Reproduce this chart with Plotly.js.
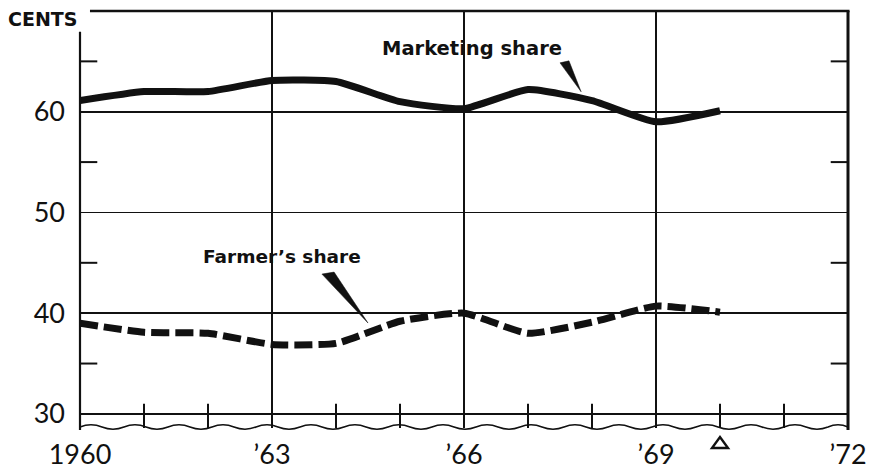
<!DOCTYPE html>
<html>
<head>
<meta charset="utf-8">
<script src="https://cdn.plot.ly/plotly-3.0.1.min.js"></script>
<style>html,body{margin:0;padding:0;background:#fff;}#chart{width:871px;height:472px;}</style>
</head>
<body>
<div id="chart"></div>
<script>
// ---- data (cents of the consumer food dollar) ----
const years = [1960, 1961, 1962, 1963, 1964, 1965, 1966, 1967, 1968, 1969, 1970];
const marketingShare = [61.1, 62.0, 62.0, 63.1, 63.0, 61.0, 60.3, 62.2, 61.1, 59.0, 60.1];
const farmerShare = [39.0, 38.1, 38.0, 36.9, 37.0, 39.2, 40.0, 38.0, 39.1, 40.7, 40.1];
const xTickVals = [1960, 1963, 1966, 1969, 1972];
const xTickText = ['1960', '\u201963', '\u201966', '\u201969', '\u201972'];
const yTickVals = [30, 40, 50, 60];
const yMinorTicks = [35, 45, 55, 65];
const xMinorTicks = [1961, 1962, 1964, 1965, 1967, 1968, 1970, 1971];
const preliminaryYear = 1970;

const INK = '#111';
const X0 = 1960, X1 = 1972, Y0 = 28.6, Y1 = 70;

const traces = [
  {x: years, y: marketingShare, type: 'scatter', mode: 'lines', name: 'Marketing share',
   line: {color: INK, width: 7, shape: 'spline', smoothing: 0.5}, hoverinfo: 'x+y'},
  {x: years, y: farmerShare, type: 'scatter', mode: 'lines', name: "Farmer's share",
   line: {color: INK, width: 7, dash: '18px,6px', shape: 'spline', smoothing: 0.5}, hoverinfo: 'x+y'}
];

const shapes = [];
// frame: top and right borders, left border starting below the CENTS label
shapes.push({type: 'line', xref: 'paper', yref: 'paper', x0: 0.013, x1: 1.002, y0: 1, y1: 1, line: {color: INK, width: 2.5}});
shapes.push({type: 'line', xref: 'paper', yref: 'paper', x0: 1, x1: 1, y0: -0.005, y1: 1, line: {color: INK, width: 3}});
shapes.push({type: 'line', xref: 'paper', yref: 'paper', x0: 0, x1: 0, y0: -0.005, y1: 0.95, line: {color: INK, width: 2.2}});
// inner minor ticks on the value scale, left and right
yMinorTicks.forEach(v => {
  shapes.push({type: 'line', xref: 'x', yref: 'y', x0: X0, x1: X0 + 0.27, y0: v, y1: v, line: {color: INK, width: 2}});
  shapes.push({type: 'line', xref: 'x', yref: 'y', x0: X1 - 0.27, x1: X1, y0: v, y1: v, line: {color: INK, width: 2}});
});
// year ticks crossing the 30 line down to the broken-scale edge
xMinorTicks.forEach(v => {
  shapes.push({type: 'line', xref: 'x', yref: 'y', x0: v, x1: v, y0: Y0, y1: 31, line: {color: INK, width: 2}});
});
// wavy broken-scale bottom edge
(function(){
  const W = 768, H = 417, period = 22, amp = 2.2;
  let p = 'M 0 ' + (1 / H).toFixed(5);
  let n = Math.ceil(W / period);
  for (let i = 0; i < n; i++) {
    const xa = i * period, xb = Math.min(W, (i + 1) * period);
    const xm = (xa + xb) / 2;
    const s = (i % 2 === 0) ? 1 : -1;
    p += ' Q ' + (xm / W).toFixed(5) + ' ' + ((1 + s * amp * 2) / H).toFixed(5) + ' ' + (xb / W).toFixed(5) + ' ' + (1 / H).toFixed(5);
  }
  shapes.push({type: 'path', xref: 'paper', yref: 'paper', path: p, line: {color: INK, width: 1.6}});
})();
// open triangle marking the preliminary year under the axis
(function(){
  const cx = (preliminaryYear - X0) / (X1 - X0), hw = 8 / 768;
  const yb = -20 / 417, yt = -9 / 417;
  shapes.push({type: 'path', xref: 'paper', yref: 'paper',
    path: 'M ' + (cx - hw).toFixed(5) + ' ' + yb.toFixed(5) + ' L ' + (cx + hw).toFixed(5) + ' ' + yb.toFixed(5) + ' L ' + cx.toFixed(5) + ' ' + yt.toFixed(5) + ' Z',
    line: {color: INK, width: 2.4}, fillcolor: 'rgba(0,0,0,0)'});
})();
// pointer wedges from labels to lines
shapes.push({type: 'path', xref: 'x', yref: 'y', path: 'M 1967.50 64.85 L 1967.64 65.05 L 1967.83 61.98 Z', fillcolor: INK, line: {color: INK, width: 0.5}});
shapes.push({type: 'path', xref: 'x', yref: 'y', path: 'M 1963.78 43.88 L 1963.97 44.08 L 1964.50 39.02 Z', fillcolor: INK, line: {color: INK, width: 0.5}});

const annotations = [
  {xref: 'paper', yref: 'paper', x: -0.097, y: 0.981, xanchor: 'left', yanchor: 'middle', showarrow: false,
   text: 'CENTS', font: {family: 'DejaVu Sans', size: 19, color: INK, weight: 'bold'}},
  {xref: 'x', yref: 'y', x: 1966.125, y: 66.3, xanchor: 'center', yanchor: 'middle', showarrow: false,
   text: 'Marketing share', font: {family: 'DejaVu Sans', size: 19.5, color: INK, weight: 'bold'}},
  {xref: 'x', yref: 'y', x: 1963.16, y: 45.6, xanchor: 'center', yanchor: 'middle', showarrow: false,
   text: 'Farmer\u2019s share', font: {family: 'DejaVu Sans', size: 18.5, color: INK, weight: 'bold'}}
];

const layout = {
  width: 871, height: 472,
  margin: {l: 80, r: 23, t: 11, b: 44, pad: 0},
  paper_bgcolor: '#fff', plot_bgcolor: '#fff',
  showlegend: false,
  xaxis: {range: [X0, X1], tickmode: 'array', tickvals: xTickVals, ticktext: xTickText,
          showgrid: true, gridcolor: INK, gridwidth: 1.8, zeroline: false, showline: false, ticks: '',
          ticklabelstandoff: 8, tickfont: {family: 'Lato', size: 27, color: INK}, fixedrange: true},
  yaxis: {range: [Y0, Y1], tickmode: 'array', tickvals: yTickVals,
          showgrid: true, gridcolor: INK, gridwidth: 1.8, zeroline: false, showline: false, ticks: '',
          ticklabelstandoff: 14, tickfont: {family: 'Lato', size: 27, color: INK}, fixedrange: true},
  shapes: shapes,
  annotations: annotations
};

Plotly.newPlot('chart', traces, layout, {displayModeBar: false, staticPlot: true});
</script>
</body>
</html>
